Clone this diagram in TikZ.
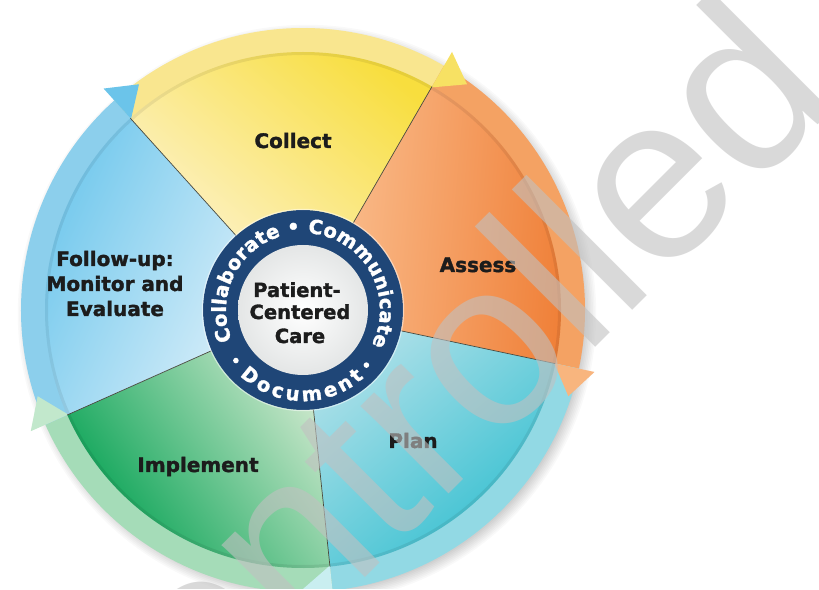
\documentclass[tikz,border=0pt]{standalone}
\usepackage{fontspec}
\setmainfont{DejaVu Sans}[BoldFeatures={FakeBold=1.6}]
\newfontfamily\markfont{Liberation Sans}
\usetikzlibrary{decorations.text}

% palette
\definecolor{inkdark}{HTML}{1C1C1C}
\definecolor{navy}{HTML}{1F4677}
\definecolor{hubedge}{HTML}{E4E6E6}
\definecolor{divline}{HTML}{4A4A3E}
\definecolor{markgray}{RGB}{193,193,193}
% outer arrow bands and heads
\definecolor{bandBlue}{HTML}{8CCFEC}
\definecolor{headBlue}{HTML}{6BC4EA}
\definecolor{bandYellow}{HTML}{F9E68F}
\definecolor{headYellow}{HTML}{F7E163}
\definecolor{bandOrange}{HTML}{F4A263}
\definecolor{headOrange}{HTML}{F8B57E}
\definecolor{bandCyan}{HTML}{92D9E4}
\definecolor{headCyan}{HTML}{C9EEF0}
\definecolor{bandGreen}{HTML}{A5DCB8}
\definecolor{headGreen}{HTML}{C2E8CC}
% sector fills (outer / inner)
\definecolor{secYellowOut}{HTML}{F8DE3E}
\definecolor{secYellowIn}{HTML}{FDF4D8}
\definecolor{secOrangeOut}{HTML}{EF7D34}
\definecolor{secOrangeIn}{HTML}{FBC497}
\definecolor{secCyanOut}{HTML}{33BFD0}
\definecolor{secCyanIn}{HTML}{B5E2EA}
\definecolor{secGreenOut}{HTML}{00A050}
\definecolor{secGreenIn}{HTML}{D6EBD2}
\definecolor{secBlueOut}{HTML}{6CC6EC}
\definecolor{secBlueIn}{HTML}{E8F4FB}

\tikzset{
  steplabel/.style={font=\bfseries\fontsize{20}{24}\selectfont, text=inkdark, inner sep=0pt, anchor=base},
  hublabel/.style={font=\bfseries\fontsize{19.5}{23}\selectfont, text=inkdark, inner sep=0pt, anchor=base},
  divider/.style={draw=divline, line width=0.7pt},
  rimshade/.style={draw=black, draw opacity=0.07, line width=3pt},
  ringtext/.style={decorate, decoration={text along path, text align={fit to path}, text color=white, text={|\bfseries\fontsize{19.5}{20}\selectfont|#1}}},
  watermark/.style={inner sep=0pt, anchor=base west, rotate=45, text=markgray, text opacity=0.6,
    font=\markfont\fontsize{235}{235}\selectfont}
}

% curved band of the outer ring, from angle #1 clockwise to #2
\newcommand\wheelband[3]{\fill[#3] (#1:250) arc[start angle=#1, end angle=#2, radius=250]
  -- (#2:282) arc[start angle=#2, end angle=#1, radius=282] -- cycle;}
% arrow head at the clockwise end of a band
\newcommand\wheelhead[2]{\fill[#2] (#1:257) -- ({#1-6}:279) -- (#1:298) -- cycle;}
% shaded sector between angles #1 and #2
\newcommand\wheelpart[5]{\shade[top color=#3, bottom color=#4, shading angle=#5]
  (0,0) -- (#1:258) arc[start angle=#1, end angle=#2, radius=258] -- cycle;}

\begin{document}
\begin{tikzpicture}[x=1pt,y=1pt]
\useasboundingbox (0,0) rectangle (819,589);
\clip (0,0) rectangle (819,589);
\fill[white] (0,0) rectangle (819,589);

\begin{scope}[shift={(303,279)}]
  % soft drop shadow of the wheel
  \foreach \i in {0,...,7}
    \fill[black, opacity=0.025] (4,-4) circle[radius=278+1.6*\i];

  % outer arrow ring
  \wheelband{132}{60}{bandYellow}
  \wheelband{60}{-12}{bandOrange}
  \wheelband{-12}{-84}{bandCyan}
  \wheelband{276}{204}{bandGreen}
  \wheelband{204}{132}{bandBlue}

  % five process sectors
  \wheelpart{60}{132}{secYellowOut}{secYellowIn}{-40}
  \wheelpart{-12}{60}{secOrangeOut}{secOrangeIn}{-95}
  \wheelpart{-84}{-12}{secCyanOut}{secCyanIn}{-140}
  \wheelpart{204}{276}{secGreenOut}{secGreenIn}{125}
  \wheelpart{132}{204}{secBlueOut}{secBlueIn}{65}
  \draw[rimshade] (0,0) circle[radius=256.5];

  % arrow heads pointing clockwise
  \wheelhead{60}{headYellow}
  \wheelhead{-12}{headOrange}
  \wheelhead{-84}{headCyan}
  \wheelhead{204}{headGreen}
  \wheelhead{132}{headBlue}

  % sector dividers
  \foreach \a in {132,60,-12,-84,204}
    \draw[divider] (\a:100) -- (\a:258);

  % hub
  \fill[navy] (0,0) circle[radius=100];
  \draw[white, opacity=0.5, line width=1.2pt] (0,0) circle[radius=100.6];
  \shade[inner color=white, outer color=hubedge] (0,0) circle[radius=65];
  \path[ringtext={Collaborate • Communicate}] (203:77) arc[start angle=203, end angle=-27, radius=77];
  \path[ringtext={Document}] (226:91) arc[start angle=226, end angle=312, radius=91];
  \fill[white] (217:84) circle[radius=2.8];
  \fill[white] (-41:84) circle[radius=2.8];

  \node[hublabel] (hub1) at (-6,13) {Patient-};
  \node[hublabel] (hub2) at (-3,-9) {Centered};
  \node[hublabel] (hub3) at (-3,-33) {Care};

  % step labels
  \node[steplabel] (collect) at (-10,162) {Collect};
  \node[steplabel] (assess) at (175,38) {Assess};
  \node[steplabel] (plan) at (110,-138) {Plan};
  \node[steplabel] (implement) at (-105,-162) {Implement};
  \node[steplabel] (follow1) at (-188,44) {Follow-up:};
  \node[steplabel] (follow2) at (-188,19) {Monitor and};
  \node[steplabel] (follow3) at (-188,-6) {Evaluate};
\end{scope}

% diagonal watermark
\node[watermark] (mark) at (86,-268) {Controlled};
\end{tikzpicture}
\end{document}
